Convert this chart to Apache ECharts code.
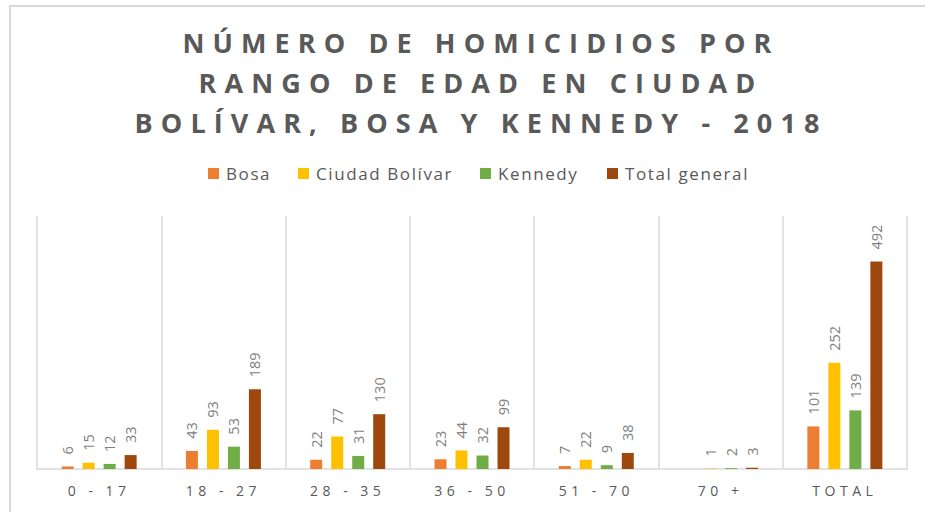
<!DOCTYPE html>
<html>
<head>
<meta charset="utf-8">
<script src="https://cdn.jsdelivr.net/npm/echarts@6/dist/echarts.min.js"></script>
<style>
  html, body { margin: 0; padding: 0; background: #ffffff; }
  #chart { width: 925px; height: 512px; }
  /* spaced lettering for the title, legend and category labels (SVG renderer) */
  #chart text[style*="27px"] { letter-spacing: 8.1px; }
  #chart text[style*="14px"] { letter-spacing: 4.5px; }
  #chart text[style*="17px"] { letter-spacing: 1.6px; }
</style>
</head>
<body>
<div id="chart"></div>
<script>
// Age ranges on the category axis
const categories = ['0 - 17', '18 - 27', '28 - 35', '36 - 50', '51 - 70', '70 +', 'TOTAL'];

// Homicides per locality and age range (2018)
const bosa          = [6, 43, 22, 23, 7, null, 101];
const ciudadBolivar = [15, 93, 77, 44, 22, 1, 252];
const kennedy       = [12, 53, 31, 32, 9, 2, 139];
const totalGeneral  = [33, 189, 130, 99, 38, 3, 492];

const seriesNames = ['Bosa', 'Ciudad Bolívar', 'Kennedy', 'Total general'];
const seriesData  = [bosa, ciudadBolivar, kennedy, totalGeneral];
const seriesColors = ['#ED7D31', '#FFC000', '#70AD47', '#9E480E'];

const titleLines = ['NÚMERO DE HOMICIDIOS POR', 'RANGO DE EDAD EN CIUDAD', 'BOLÍVAR, BOSA Y KENNEDY - 2018'];

// horizontal position of each legend entry (one legend per series)
const legendLeft = [203, 293, 475, 602];

const chart = echarts.init(document.getElementById('chart'), null, { renderer: 'svg' });

const option = {
  animation: false,
  backgroundColor: '#ffffff',
  title: {
    text: titleLines.join('\n'),
    left: 476,
    top: 17,
    textAlign: 'center',
    textStyle: {
      fontFamily: 'Open Sans',
      fontWeight: 'bold',
      fontSize: 27,
      lineHeight: 40,
      color: '#595959'
    }
  },
  legend: seriesNames.map((name, i) => ({
    data: [name],
    top: 160,
    left: legendLeft[i],
    icon: 'rect',
    itemWidth: 11,
    itemHeight: 11,
    textStyle: { fontFamily: 'Open Sans', fontSize: 17, color: '#595959', padding: [0, 0, 0, 2] }
  })),
  graphic: [{
    type: 'rect',
    shape: { x: 10, y: 6, width: 1000, height: 1000 },
    style: { fill: 'none', stroke: '#d9d9d9', lineWidth: 2 },
    silent: true
  }],
  grid: { left: 37, right: 18, top: 216, bottom: 43 },
  xAxis: {
    type: 'category',
    data: categories,
    axisTick: { show: false },
    axisLine: { lineStyle: { color: '#d9d9d9', width: 1.5 } },
    axisLabel: { fontFamily: 'Open Sans', fontSize: 14, color: '#595959', margin: 14 },
    splitLine: { show: true, lineStyle: { color: '#d9d9d9', width: 1.5 } }
  },
  yAxis: {
    type: 'value',
    min: 0,
    max: 600,
    show: false,
    splitLine: { show: false }
  },
  series: seriesNames.map((name, i) => ({
    name: name,
    type: 'bar',
    data: seriesData[i],
    barWidth: 12,
    barGap: '75%',
    itemStyle: { color: seriesColors[i] },
    label: {
      show: true,
      position: 'top',
      rotate: 90,
      align: 'left',
      verticalAlign: 'middle',
      distance: 12,
      fontFamily: 'Open Sans',
      fontSize: 14.5,
      color: '#7f7f7f'
    }
  }))
};

chart.setOption(option);
</script>
</body>
</html>
